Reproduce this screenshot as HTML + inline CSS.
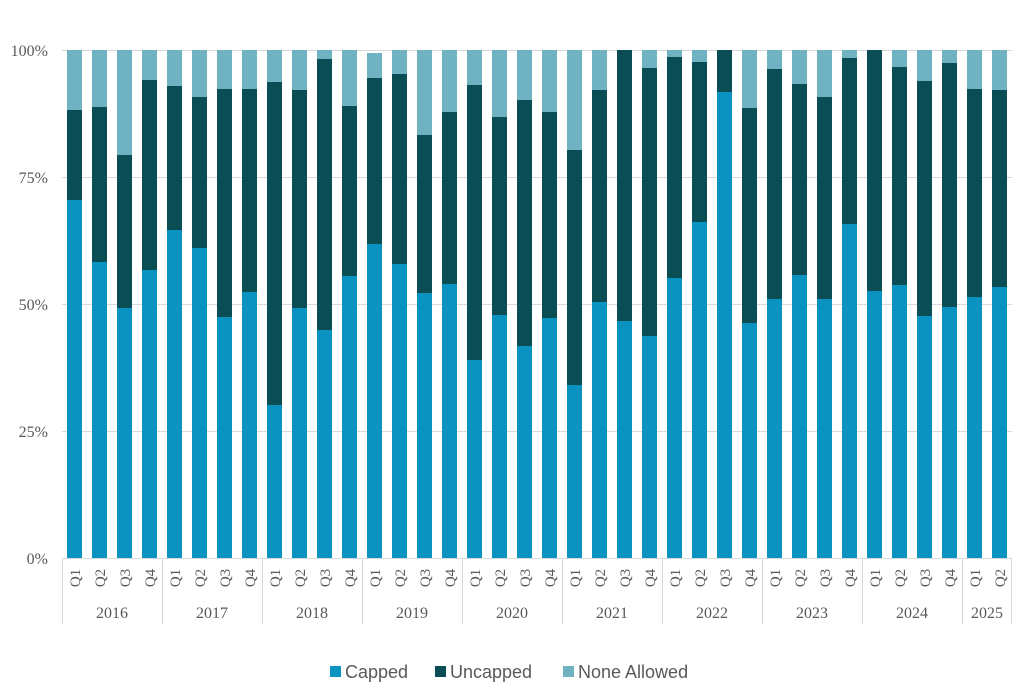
<!DOCTYPE html>
<html><head><style>body{margin:0;background:#fff}svg{display:block}</style></head>
<body>
<svg id="s" width="1024" height="698" xmlns="http://www.w3.org/2000/svg">
<g stroke="#d9d9d9" stroke-width="1">
<line x1="62" y1="50.5" x2="1012" y2="50.5"/>
<line x1="62" y1="177.5" x2="1012" y2="177.5"/>
<line x1="62" y1="304.5" x2="1012" y2="304.5"/>
<line x1="62" y1="431.5" x2="1012" y2="431.5"/>
</g>
<g id="bars"></g>
<g stroke="#d9d9d9" stroke-width="1">
<line x1="62" y1="558.5" x2="1012" y2="558.5"/>
<line x1="62.5" y1="558" x2="62.5" y2="624"/>
<line x1="162.5" y1="558" x2="162.5" y2="624"/>
<line x1="262.5" y1="558" x2="262.5" y2="624"/>
<line x1="362.5" y1="558" x2="362.5" y2="624"/>
<line x1="462.5" y1="558" x2="462.5" y2="624"/>
<line x1="562.5" y1="558" x2="562.5" y2="624"/>
<line x1="662.5" y1="558" x2="662.5" y2="624"/>
<line x1="762.5" y1="558" x2="762.5" y2="624"/>
<line x1="862.5" y1="558" x2="862.5" y2="624"/>
<line x1="962.5" y1="558" x2="962.5" y2="624"/>
<line x1="1011.5" y1="558" x2="1011.5" y2="624"/>
</g>
<g font-family="Liberation Serif, serif" font-size="16" fill="#595959" text-anchor="end">
<text x="48" y="56">100%</text>
<text x="48" y="183">75%</text>
<text x="48" y="310">50%</text>
<text x="48" y="437">25%</text>
<text x="48" y="564">0%</text>
</g>
<g id="q" font-family="Liberation Serif, serif" font-size="15" fill="#595959" text-anchor="middle">
<text transform="translate(80,578) rotate(-90)">Q1</text>
<text transform="translate(105,578) rotate(-90)">Q2</text>
<text transform="translate(130,578) rotate(-90)">Q3</text>
<text transform="translate(155,578) rotate(-90)">Q4</text>
<text transform="translate(180,578) rotate(-90)">Q1</text>
<text transform="translate(205,578) rotate(-90)">Q2</text>
<text transform="translate(230,578) rotate(-90)">Q3</text>
<text transform="translate(255,578) rotate(-90)">Q4</text>
<text transform="translate(280,578) rotate(-90)">Q1</text>
<text transform="translate(305,578) rotate(-90)">Q2</text>
<text transform="translate(330,578) rotate(-90)">Q3</text>
<text transform="translate(355,578) rotate(-90)">Q4</text>
<text transform="translate(380,578) rotate(-90)">Q1</text>
<text transform="translate(405,578) rotate(-90)">Q2</text>
<text transform="translate(430,578) rotate(-90)">Q3</text>
<text transform="translate(455,578) rotate(-90)">Q4</text>
<text transform="translate(480,578) rotate(-90)">Q1</text>
<text transform="translate(505,578) rotate(-90)">Q2</text>
<text transform="translate(530,578) rotate(-90)">Q3</text>
<text transform="translate(555,578) rotate(-90)">Q4</text>
<text transform="translate(580,578) rotate(-90)">Q1</text>
<text transform="translate(605,578) rotate(-90)">Q2</text>
<text transform="translate(630,578) rotate(-90)">Q3</text>
<text transform="translate(655,578) rotate(-90)">Q4</text>
<text transform="translate(680,578) rotate(-90)">Q1</text>
<text transform="translate(705,578) rotate(-90)">Q2</text>
<text transform="translate(730,578) rotate(-90)">Q3</text>
<text transform="translate(755,578) rotate(-90)">Q4</text>
<text transform="translate(780,578) rotate(-90)">Q1</text>
<text transform="translate(805,578) rotate(-90)">Q2</text>
<text transform="translate(830,578) rotate(-90)">Q3</text>
<text transform="translate(855,578) rotate(-90)">Q4</text>
<text transform="translate(880,578) rotate(-90)">Q1</text>
<text transform="translate(905,578) rotate(-90)">Q2</text>
<text transform="translate(930,578) rotate(-90)">Q3</text>
<text transform="translate(955,578) rotate(-90)">Q4</text>
<text transform="translate(980,578) rotate(-90)">Q1</text>
<text transform="translate(1005,578) rotate(-90)">Q2</text>
</g>
<g font-family="Liberation Serif, serif" font-size="16" fill="#595959" text-anchor="middle">
<text x="112" y="618">2016</text>
<text x="212" y="618">2017</text>
<text x="312" y="618">2018</text>
<text x="412" y="618">2019</text>
<text x="512" y="618">2020</text>
<text x="612" y="618">2021</text>
<text x="712" y="618">2022</text>
<text x="812" y="618">2023</text>
<text x="912" y="618">2024</text>
<text x="987" y="618">2025</text>
</g>
<g font-family="Liberation Sans, sans-serif" font-size="18" fill="#595959">
<rect x="330" y="666" width="11" height="11" fill="#0a93c1"/>
<text x="345" y="678">Capped</text>
<rect x="435" y="666" width="11" height="11" fill="#0b4d54"/>
<text x="450" y="678">Uncapped</text>
<rect x="563" y="666" width="11" height="11" fill="#6fb2c2"/>
<text x="578" y="678">None Allowed</text>
</g>
</svg>
<script>
var d=[[200,110,50],[262,107,50],[308,155,50],[270,80,50],[230,86,50],[248,97,50],[317,89,50],[292,89,50],[405,82,50],[308,90,50],[330,59,50],[276,106,50],[244,78,53],[264,74,50],[293,135,50],[284,112,50],[360,85,50],[315,117,50],[346,100,50],[318,112,50],[385,150,50],[302,90,50],[321,50,50],[336,68,50],[278,57,50],[222,62,50],[92,50,50],[323,108,50],[299,69,50],[275,84,50],[299,97,50],[224,58,50],[291,50,50],[285,67,50],[316,81,50],[307,63,50],[297,89,50],[287,90,50]];
var g=document.getElementById('bars'),h='';
d.forEach(function(b,i){var x=67+i*25;
h+='<rect x="'+x+'" y="'+b[2]+'" width="15" height="'+(b[1]-b[2])+'" fill="#6fb2c2"/>';
h+='<rect x="'+x+'" y="'+b[1]+'" width="15" height="'+(b[0]-b[1])+'" fill="#0b4d54"/>';
h+='<rect x="'+x+'" y="'+b[0]+'" width="15" height="'+(558-b[0])+'" fill="#0a93c1"/>';});
g.innerHTML=h;
</script>
</body></html>
